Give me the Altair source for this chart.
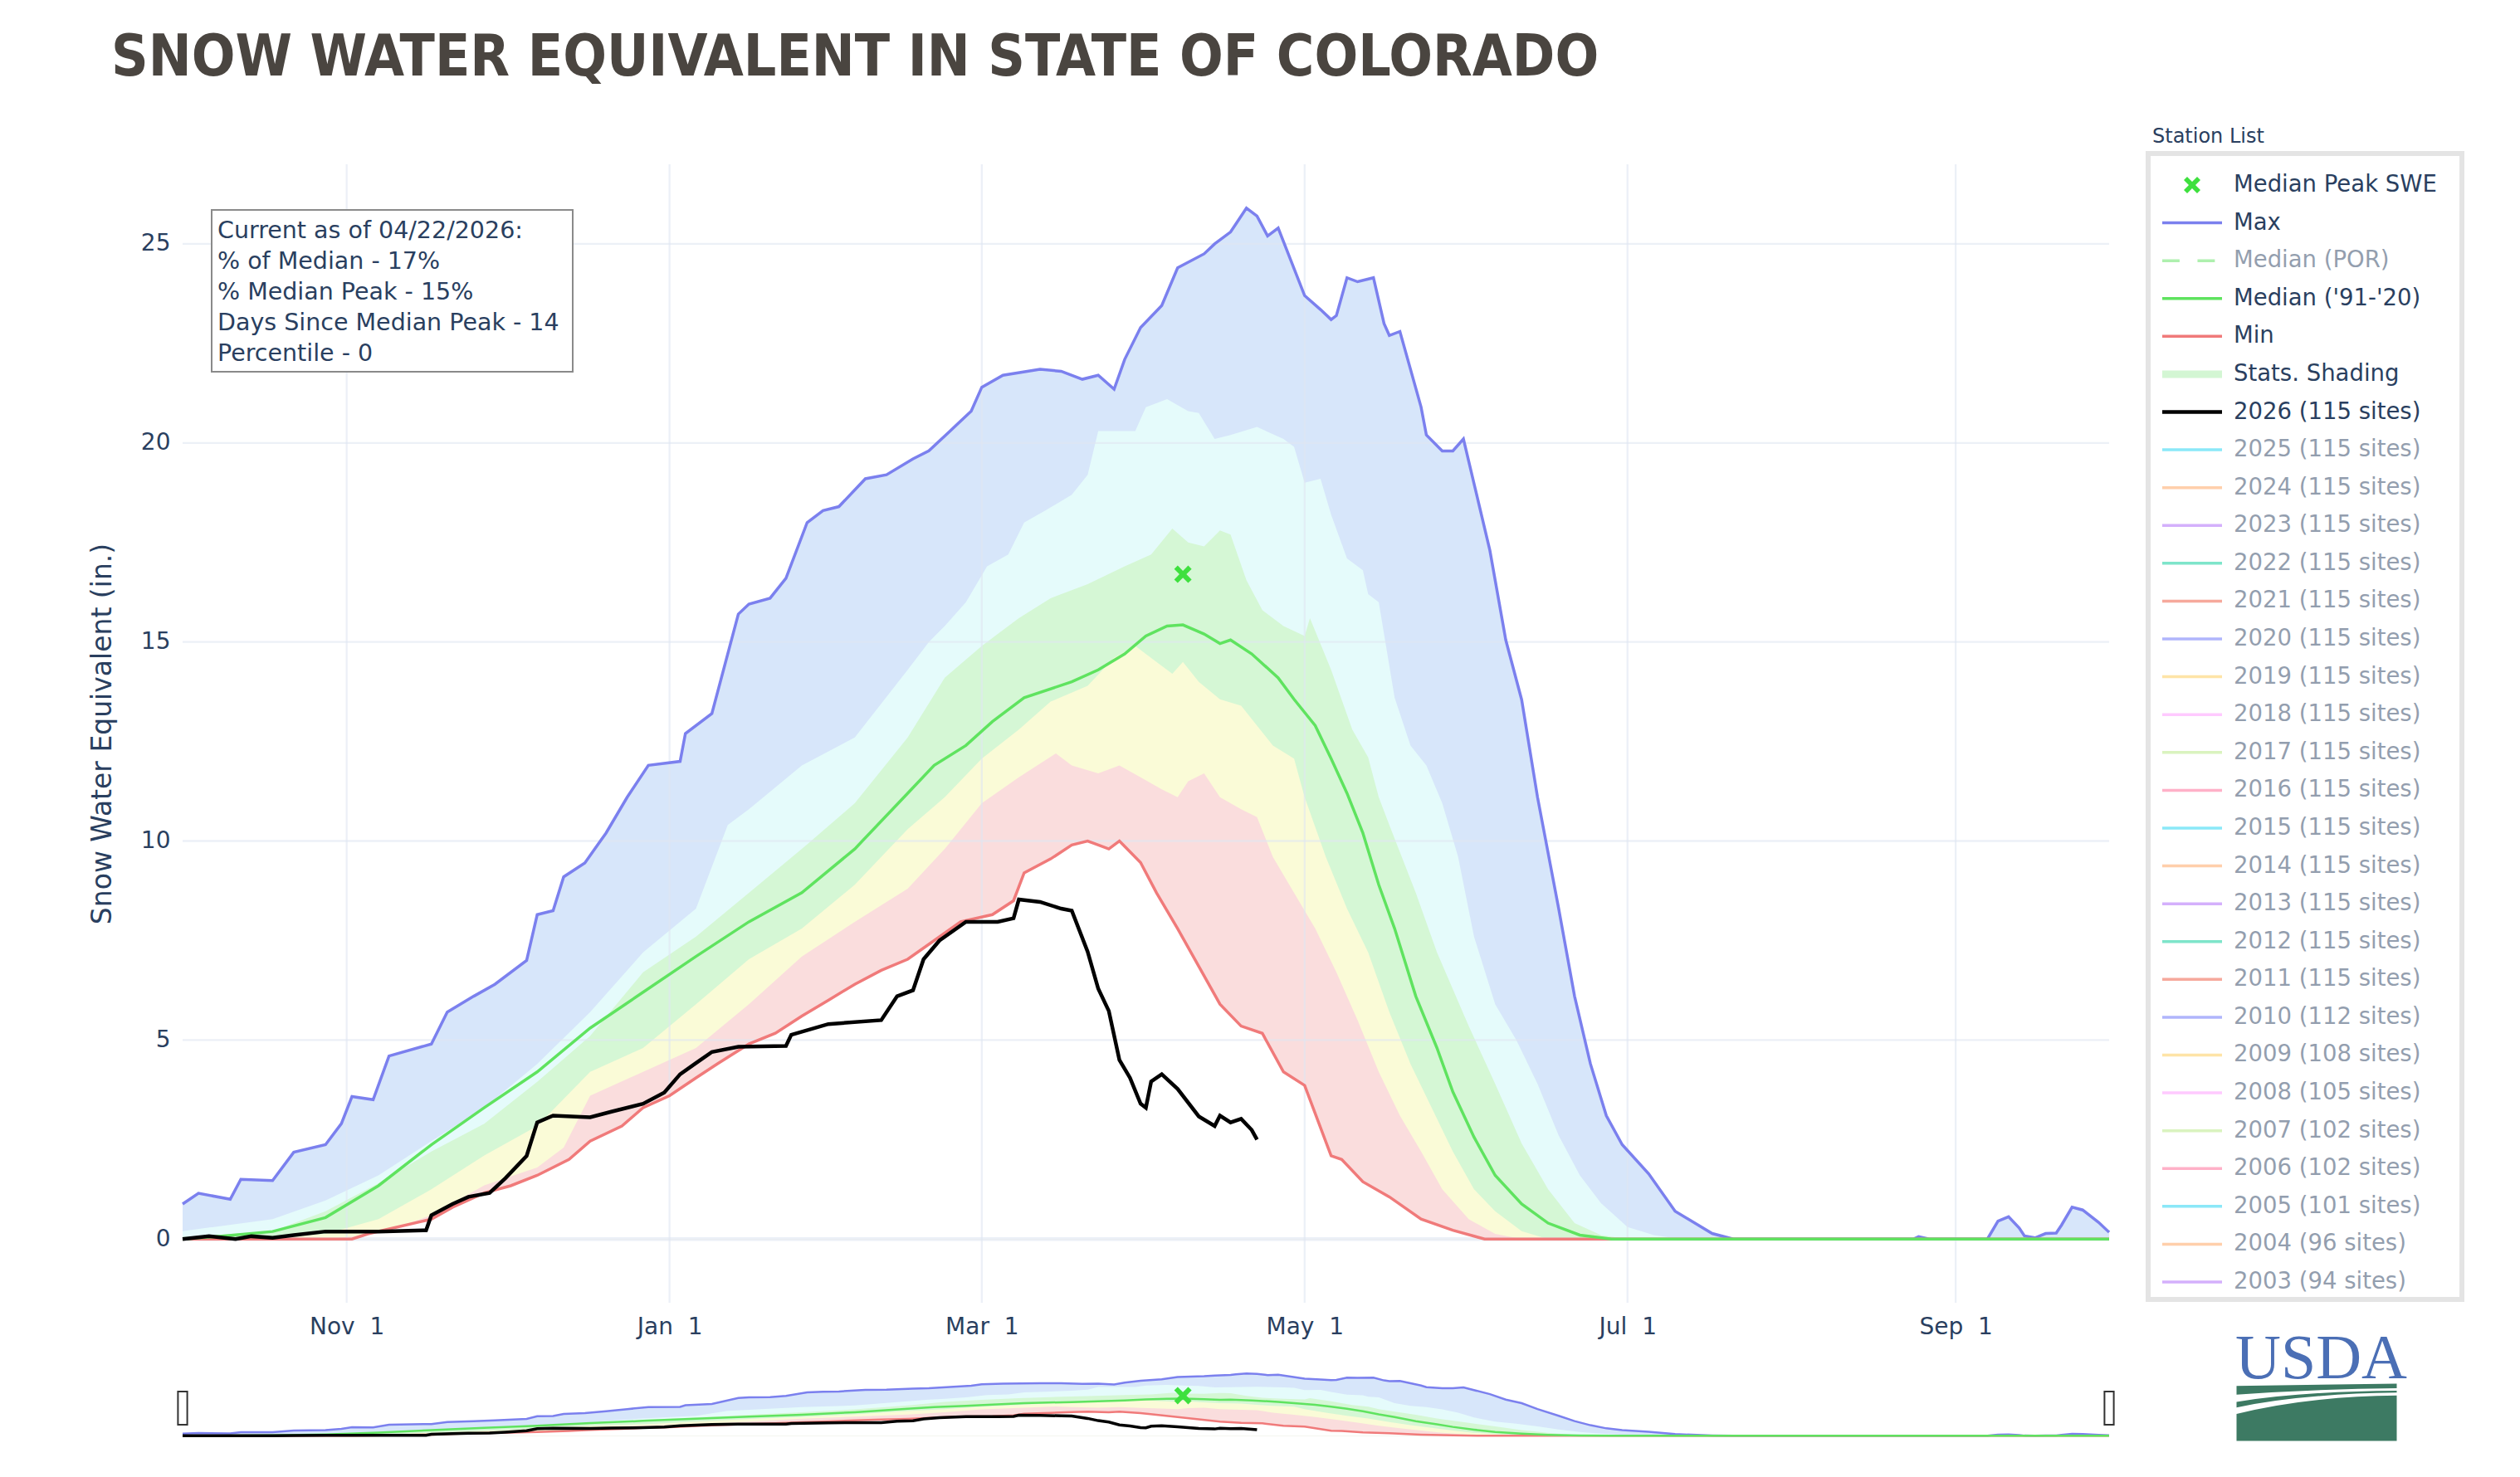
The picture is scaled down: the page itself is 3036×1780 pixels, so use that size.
import altair as alt
import pandas as pd

# ---------------- data: day offset from 1 Oct 2025, SWE in inches ----------------
MAX_DAYS = [0,3,9,11,17,21,27,30,32,36,39,47,50,55,59,65,67,70,72,76,80,84,88,94,95,100,105,107,111,114,
            118,121,124,129,133,138,141,145,149,151,155,162,166,170,173,176,178,181,185,188,193,195,198,199,201,203,205,207,212,215,
            217,218,220,222,225,227,228,230,234,235,238,240,242,247,250,253,256,260,263,266,269,272,277,282,289,293,327,328,330,341,
            343,345,347,348,350,352,354,355,357,359,362,364]
MAX_SWE = [0.88,1.15,1.0,1.5,1.47,2.18,2.37,2.9,3.58,3.5,4.6,4.9,5.7,6.1,6.4,7.0,8.15,8.25,9.1,9.45,
           10.2,11.1,11.9,12.0,12.7,13.2,15.7,15.95,16.1,16.6,18.0,18.3,18.4,19.1,19.2,19.6,19.8,20.3,20.8,21.4,
           21.7,21.85,21.8,21.6,21.7,21.35,22.1,22.9,23.45,24.4,24.75,25.0,25.3,25.5,25.9,25.7,25.2,25.4,23.7,23.35,
           23.1,23.2,24.15,24.05,24.15,23.0,22.7,22.8,20.9,20.2,19.8,19.8,20.1,17.3,15.05,13.55,11.1,8.3,6.1,4.4,
           3.1,2.37,1.64,0.7,0.14,0.0,0.0,0.06,0.0,0.0,0.45,0.56,0.28,0.08,0.03,0.14,0.15,0.35,0.8,0.73,0.42,0.17]

P90_DAYS = [0,17,27,37,47,57,67,77,87,97,103,107,117,127,137,141,144,148,152,156,159,163,168,171,173,180,182,186,190,192,
            195,198,203,208,210,212,215,217,220,223,224,226,229,232,235,238,241,244,248,252,256,260,264,268,273,278,283,364]
P90_SWE = [0.2,0.5,0.97,1.6,2.46,3.3,4.4,5.7,7.2,8.3,10.4,10.8,11.9,12.6,14.3,15.0,15.4,16.0,16.9,17.2,
           18.0,18.3,18.7,19.2,20.3,20.3,20.9,21.1,20.8,20.75,20.1,20.2,20.4,20.1,19.9,19.0,19.1,18.2,17.1,16.8,
           16.2,16.0,13.6,12.4,11.9,10.95,9.6,7.6,5.9,5.0,3.9,2.6,1.6,0.9,0.3,0.1,0.0,0.0]

P70_DAYS = [0,17,27,37,47,57,67,77,87,97,107,117,127,137,144,151,158,164,171,178,183,187,190,193,196,198,201,204,208,212,
            213,217,221,224,226,228,233,237,243,248,253,258,263,268,273,364]
P70_SWE = [0.05,0.2,0.7,1.4,2.2,2.9,3.95,5.1,6.7,7.6,8.7,9.8,10.95,12.6,14.1,14.9,15.6,16.1,16.45,16.9,
           17.2,17.85,17.5,17.4,17.8,17.7,16.55,15.8,15.4,15.15,15.6,14.3,12.8,12.1,11.1,10.4,8.7,7.2,5.35,3.9,
           2.4,1.25,0.4,0.1,0.0,0.0]

MED_DAYS = [0,7,17,27,37,47,57,67,77,87,97,107,117,127,137,142,148,153,159,168,173,178,182,186,189,193,196,198,202,207,
            210,214,217,220,223,226,229,233,237,240,244,248,253,258,264,270,364]
MED_SWE = [0.0,0.07,0.19,0.54,1.34,2.37,3.3,4.2,5.3,6.2,7.1,7.97,8.7,9.8,11.2,11.9,12.4,13.0,13.6,14.0,
           14.3,14.7,15.15,15.4,15.43,15.2,14.96,15.05,14.7,14.1,13.56,12.9,12.07,11.2,10.2,8.9,7.8,6.1,4.8,3.7,
           2.56,1.6,0.88,0.4,0.1,0.0,0.0]

P30_DAYS = [0,17,27,37,47,57,67,77,87,97,107,117,127,137,144,151,158,164,171,176,180,184,187,189,192,196,200,203,206,210,
            212,216,220,224,228,232,236,240,244,248,253,258,364]
P30_SWE = [0.0,0.03,0.13,0.5,1.25,2.1,2.84,4.2,4.8,5.9,7.03,7.8,8.9,10.3,11.1,12.07,12.8,13.5,13.9,14.6,
           14.9,14.5,14.2,14.5,14.0,13.56,13.4,12.9,12.4,12.07,11.1,9.6,8.3,7.2,5.7,4.4,3.3,2.2,1.25,0.7,
           0.2,0.0,0.0]

P10_DAYS = [0,27,37,47,57,67,72,77,87,97,107,117,127,137,144,151,158,165,168,173,177,181,185,188,190,193,196,200,203,206,
            210,214,218,222,226,230,234,238,243,248,253,364]
P10_SWE = [0.0,0.0,0.13,0.6,1.35,1.8,2.3,3.6,4.2,4.8,5.9,7.1,7.97,8.8,9.8,10.95,11.6,12.2,11.9,11.7,
           11.9,11.6,11.3,11.1,11.5,11.7,11.1,10.8,10.6,9.6,8.7,7.8,6.7,5.5,4.2,3.1,2.2,1.25,0.5,0.13,
           0.0,0.0]

MIN_DAYS = [0,32,35,47,51,57,62,67,73,77,83,87,92,97,101,107,112,117,122,127,132,137,142,147,153,157,159,164,168,171,
            175,177,181,184,188,192,196,200,204,208,212,217,219,223,228,234,240,246,364]
MIN_SWE = [0.0,0.0,0.13,0.5,0.8,1.16,1.34,1.6,2.0,2.46,2.84,3.3,3.6,4.05,4.4,4.9,5.17,5.6,6.0,6.4,
           6.75,7.03,7.5,7.97,8.15,8.5,9.2,9.55,9.9,10.0,9.8,10.0,9.46,8.7,7.8,6.85,5.9,5.35,5.17,4.2,
           3.86,2.09,2.0,1.44,1.06,0.5,0.22,0.0,0.0]

NOW_DAYS = [0,5,10,13,17,21,27,37,46,47,51,54,58,61,65,67,70,77,81,87,91,94,97,100,105,114,115,122,132,135,
            138,140,143,148,154,157,158,162,166,168,171,173,175,177,179,181,182,183,185,188,192,195,196,198,200,202,203]
NOW_SWE = [0.0,0.07,0.0,0.07,0.03,0.1,0.19,0.19,0.22,0.6,0.88,1.06,1.16,1.53,2.09,2.93,3.1,3.06,3.2,3.4,
           3.68,4.14,4.42,4.7,4.83,4.85,5.13,5.4,5.5,6.1,6.25,7.03,7.5,7.97,7.97,8.06,8.53,8.47,8.3,8.25,
           7.22,6.29,5.73,4.5,4.05,3.4,3.3,3.96,4.14,3.77,3.08,2.84,3.1,2.93,3.02,2.74,2.5]

PEAK_DAYS = [189]
PEAK_SWE = [16.7]

Y_TICKS = [0, 5, 10, 15, 20, 25]
X_TICKS = ["2025-11-01", "2026-01-01", "2026-03-01", "2026-05-01", "2026-07-01", "2026-09-01"]
SLIDER_ENDS = ["2025-10-01", "2026-09-30"]

INFO_LINES = ["Current as of 04/22/2026:", "% of Median - 17%", "% Median Peak - 15%",
              "Days Since Median Peak - 14", "Percentile - 0"]

TITLE = "SNOW WATER EQUIVALENT IN STATE OF COLORADO"
Y_TITLE = "Snow Water Equivalent (in.)"
LEGEND_TITLE = "Station List"
STAT_LABELS = ["Median Peak SWE", "Max", "Median (POR)", "Median ('91-'20)", "Min", "Stats. Shading"]
STAT_KINDS = ["x", "line", "dash", "line", "line", "band"]
STAT_ACTIVE = [1, 1, 0, 1, 1, 1]
YEARS = [2026, 2025, 2024, 2023, 2022, 2021, 2020, 2019, 2018, 2017, 2016, 2015,
         2014, 2013, 2012, 2011, 2010, 2009, 2008, 2007, 2006, 2005, 2004, 2003]
SITES = [115, 115, 115, 115, 115, 115, 115, 115, 115, 115, 115, 115,
         115, 115, 115, 115, 112, 108, 105, 102, 102, 101, 96, 94]

# ---------------- styles ----------------
FONT = "DejaVu Sans"
TXT = "#2a3f5f"
GRID = "#dfe6f2"
C_MAX, C_MED, C_MIN, C_NOW = "#7b80ee", "#5fe35f", "#f07a7a", "#000000"
C_PEAK = "#3ee03e"
B_MAX, B_90, B_70, B_30, B_10 = "#d7e6fa", "#e5fbfb", "#d5f7d5", "#fafbd7", "#fadddd"
STAT_COLORS = [C_PEAK, C_MAX, C_MED, C_MED, C_MIN, "#d3f6d3"]
YEAR_PALETTE = ["#19d3f3", "#FFA15A", "#ab63fa", "#00cc96", "#EF553B",
                "#636efa", "#FECB52", "#FF97FF", "#B6E880", "#FF6692"]

W, H = 2321, 1372

BASE = pd.Timestamp("2025-10-01")


def frame(days, vals):
    assert len(days) == len(vals)
    d = BASE + pd.to_timedelta(days, unit="D")
    return pd.DataFrame({"date": d.strftime("%Y-%m-%dT00:00:00"), "v": vals})


def dt(s):
    t = pd.Timestamp(s)
    return alt.DateTime(year=t.year, month=t.month, date=t.day)


X_SCALE = alt.Scale(domain=[dt("2025-10-01"), dt("2026-09-30")], nice=False)
Y_MAIN = alt.Scale(domain=[-1.6, 27.0], nice=False, zero=False)
Y_SLIDE = alt.Scale(domain=[-1.6, 27.0], nice=False, zero=False, range=[1537, 1454])

# two-month ticks: Nov 1, Jan 1, Mar 1, May 1, Jul 1, Sep 1
X_AXIS = alt.Axis(tickCount=alt.TimeIntervalStep(interval="month", step=2),
                  format="%b\u00a0%e",
                  grid=False, ticks=False, domain=False, labelOverlap=False, labelFlush=False,
                  labelFont=FONT, labelFontSize=28, labelColor=TXT, labelPadding=15,
                  title=None)
Y_AXIS = alt.Axis(values=Y_TICKS, grid=False, ticks=False, domain=False, labelFont=FONT,
                  labelFontSize=28, labelColor=TXT, labelPadding=15, title=Y_TITLE,
                  titleFont=FONT, titleFontSize=33, titleFontWeight="normal", titleColor=TXT,
                  titlePadding=29)

series = {
    "max": frame(MAX_DAYS, MAX_SWE), "p90": frame(P90_DAYS, P90_SWE),
    "p70": frame(P70_DAYS, P70_SWE), "med": frame(MED_DAYS, MED_SWE),
    "p30": frame(P30_DAYS, P30_SWE), "p10": frame(P10_DAYS, P10_SWE),
    "min": frame(MIN_DAYS, MIN_SWE), "now": frame(NOW_DAYS, NOW_SWE),
    "peak": frame(PEAK_DAYS, PEAK_SWE),
}


def area(key, color, yscale, yaxis=None):
    return alt.Chart(series[key]).mark_area(color=color, interpolate="linear").encode(
        x=alt.X("date:T", scale=X_SCALE, axis=None),
        y=alt.Y("v:Q", scale=yscale, axis=yaxis),
        y2=alt.datum(0),
    )


def line(key, color, width, yscale):
    return alt.Chart(series[key]).mark_line(color=color, strokeWidth=width, interpolate="linear").encode(
        x=alt.X("date:T", scale=X_SCALE, axis=None),
        y=alt.Y("v:Q", scale=yscale, axis=None),
    )


X_PATH = "M-1,-0.6L-0.6,-1L0,-0.4L0.6,-1L1,-0.6L0.4,0L1,0.6L0.6,1L0,0.4L-0.6,1L-1,0.6L-0.4,0Z"


def peak(yscale):
    return alt.Chart(series["peak"]).mark_point(shape=X_PATH, filled=True, color=C_PEAK, size=441,
                                                opacity=1).encode(
        x=alt.X("date:T", scale=X_SCALE, axis=None),
        y=alt.Y("v:Q", scale=yscale, axis=None),
    )


def panel(yscale, main):
    lw = 3.5 if main else 2.5
    layers = [
        area("max", B_MAX, yscale, Y_AXIS if main else None),
        area("p90", B_90, yscale), area("p70", B_70, yscale),
        area("p30", B_30, yscale), area("p10", B_10, yscale), area("min", "#ffffff", yscale),
    ]
    if main:
        gh = pd.DataFrame({"g": Y_TICKS, "w": [4.5, 2.3, 2.3, 2.3, 2.3, 2.3]})
        layers.append(alt.Chart(gh).mark_rule(color=GRID, opacity=0.6).encode(
            y=alt.Y("g:Q", scale=Y_MAIN, axis=None),
            strokeWidth=alt.StrokeWidth("w:Q", scale=None)))
        gv = pd.DataFrame({"date": [s + "T00:00:00" for s in X_TICKS]})
        layers.append(alt.Chart(gv).mark_rule(color=GRID, opacity=0.6, strokeWidth=2.3).encode(
            x=alt.X("date:T", scale=X_SCALE, axis=X_AXIS)))
    layers += [line("max", C_MAX, lw, yscale), line("min", C_MIN, lw, yscale),
               line("med", C_MED, lw, yscale), line("now", C_NOW, lw + 1, yscale), peak(yscale)]
    return layers


one = pd.DataFrame({"a": [0]})

# info box
info_box = alt.Chart(one).mark_rect(fill="white", stroke="#8a8a8a", strokeWidth=2).encode(
    x=alt.value(35), x2=alt.value(470), y=alt.value(55), y2=alt.value(250))
info_text = alt.Chart(one).mark_text(align="left", baseline="top", font=FONT, fontSize=28.5,
                                     color=TXT, lineHeight=37).encode(
    x=alt.value(42), y=alt.value(66), text=alt.value(INFO_LINES))

# slider handles
handles = alt.Chart(pd.DataFrame({"date": [s + "T00:00:00" for s in SLIDER_ENDS]})).mark_point(
    shape="M-0.28,-1H0.28V1H-0.28Z", filled=False, fill="white", stroke="#333333", strokeWidth=2,
    size=1600, opacity=1).encode(x=alt.X("date:T", scale=X_SCALE, axis=None), y=alt.value(1499))

# legend table
labels = STAT_LABELS + [f"{y} ({n} sites)" for y, n in zip(YEARS, SITES)]
kinds = STAT_KINDS + ["line"] * len(YEARS)
active = STAT_ACTIVE + [1] + [0] * (len(YEARS) - 1)
colors = STAT_COLORS + [C_NOW] + [YEAR_PALETTE[i % len(YEAR_PALETTE)] for i in range(len(YEARS) - 1)]
leg = pd.DataFrame({
    "row": list(range(len(labels))), "label": labels, "kind": kinds,
    "op": [1.0 if a else 0.5 for a in active], "color": colors,
    "width": [4.5 if l.startswith("2026") else 3.5 for l in labels],
})
Y_LEG = alt.Scale(domain=[0, len(labels) - 1], range=[25, 1347])
SYM_X, LAB_X = 2421, 2471

leg_box = alt.Chart(one).mark_rect(fill="white", stroke="#e4e4e4", strokeWidth=6).encode(
    x=alt.value(2368), x2=alt.value(2746), y=alt.value(-13), y2=alt.value(1368))
leg_title = alt.Chart(one).mark_text(align="left", baseline="middle", font=FONT, fontSize=24,
                                     color=TXT).encode(x=alt.value(2373), y=alt.value(-33),
                                                       text=alt.value(LEGEND_TITLE))


def leg_sym(kind, shape, size, filled):
    m = dict(shape=shape, size=size, filled=filled)
    return alt.Chart(leg).transform_filter(alt.datum.kind == kind).mark_point(**m).encode(
        x=alt.value(SYM_X), y=alt.Y("row:Q", scale=Y_LEG, axis=None),
        color=alt.Color("color:N", scale=None), opacity=alt.Opacity("op:Q", scale=None),
        strokeWidth=alt.StrokeWidth("width:Q", scale=None))


leg_lines = leg_sym("line", "M-1,0H1", 5184, False)
leg_dash = leg_sym("dash", "M-1,0H-0.42M0.18,0H0.76", 5184, False)
leg_band = leg_sym("band", "M-1,-0.125H1V0.125H-1Z", 5184, True)
leg_x = leg_sym("x", X_PATH, 400, True)
leg_labels = alt.Chart(leg).mark_text(align="left", baseline="middle", font=FONT, fontSize=27.5,
                                      color=TXT).encode(
    x=alt.value(LAB_X), y=alt.Y("row:Q", scale=Y_LEG, axis=None), text="label:N",
    opacity=alt.Opacity("op:Q", scale=None))

# USDA logo
usda_text = alt.Chart(one).mark_text(align="left", baseline="alphabetic", font="Liberation Serif",
                                     fontSize=76, color="#4b6fb5").encode(
    x=alt.value(2473), y=alt.value(1463), text=alt.value("USDA"))
FIELD_PATH = ("M-1,-0.33L1,-0.357L1,-0.30Q0,-0.29 -1,-0.22Z"
              "M-1,-0.13Q-0.2,-0.26 1,-0.27L1,-0.245Q-0.2,-0.23 -1,-0.06Z"
              "M-1,0.02Q-0.1,-0.2 1,-0.21L1,0.357L-1,0.357Z")
usda_field = alt.Chart(one).mark_point(shape=FIELD_PATH, filled=True, color="#3d7a63", size=37249,
                                       opacity=1).encode(x=alt.value(2571), y=alt.value(1504))

title = alt.Chart(one).mark_text(align="left", baseline="alphabetic",
                                 font="Liberation Sans Narrow, DejaVu Sans Condensed, Liberation Sans, sans-serif",
                                 fontSize=69, fontWeight="bold", color="#4a4540").encode(
    x=alt.value(-86), y=alt.value(-107), text=alt.value(TITLE))

layers = panel(Y_MAIN, True) + [info_box, info_text] + panel(Y_SLIDE, False) + [handles] + [
    leg_box, leg_title, leg_lines, leg_dash, leg_band, leg_x, leg_labels, usda_text, usda_field, title]

chart = alt.layer(*layers).resolve_scale(x="independent", y="independent").properties(
    width=W, height=H,
    autosize=alt.AutoSizeParams(type="none"),
    padding={"left": 212, "top": 190, "right": 487, "bottom": 202},
).configure_view(strokeWidth=0)

chart.save("out.html", embed_options={"renderer": "svg", "actions": False})
